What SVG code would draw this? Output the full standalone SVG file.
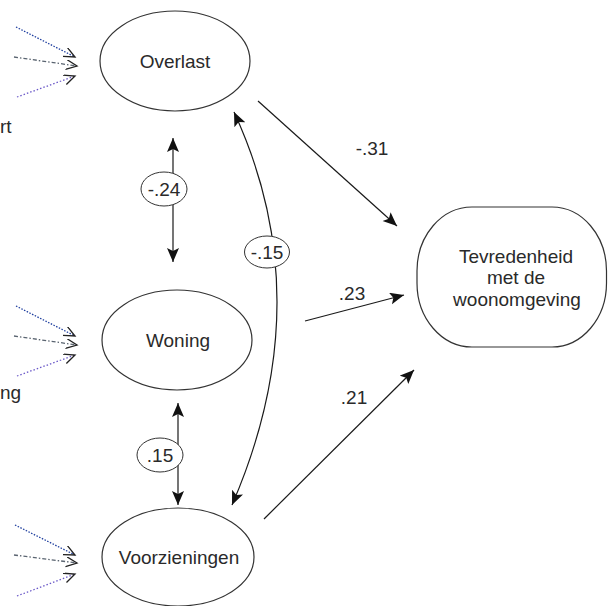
<svg xmlns="http://www.w3.org/2000/svg" width="608" height="606" viewBox="0 0 608 606">
<style>
  .node { fill: #ffffff; stroke: #333333; stroke-width: 1.2; }
  .lbl { font-family: "Liberation Sans", Arial, sans-serif; font-size: 19px; fill: #2a2a2a; text-anchor: middle; }
  .side { font-family: "Liberation Sans", Arial, sans-serif; font-size: 19px; fill: #2a2a2a; text-anchor: start; }
  .conn { stroke: #1a1a1a; stroke-width: 1.2; fill: none; }
  .ind1 { stroke: #1f3f9f; stroke-width: 1.3; stroke-dasharray: 1.5 1.5; fill: none; }
  .ind2 { stroke: #5a6470; stroke-width: 1.3; stroke-dasharray: 4 2 1.5 2; fill: none; }
  .ind3 { stroke: #6a58c8; stroke-width: 1.3; stroke-dasharray: 1.5 2; fill: none; }
  .corr { fill: #ffffff; stroke: #333333; stroke-width: 1; }
</style>
<defs>
  <marker id="solid" markerUnits="userSpaceOnUse" markerWidth="16" markerHeight="14" refX="14" refY="6" orient="auto-start-reverse" viewBox="0 0 16 14">
    <path d="M0,0 L14,6 L0,12 L3,6 z" fill="#111111"/>
  </marker>
  <marker id="open" markerUnits="userSpaceOnUse" markerWidth="14" markerHeight="12" refX="11" refY="5" orient="auto" viewBox="0 0 14 12">
    <path d="M0,0 L11,5 L0,10" fill="none" stroke="#222222" stroke-width="1.3"/>
  </marker>
</defs>

<g id="connectors">
  <!-- indicator arrows -->
  <line class="ind1" x1="16" y1="27" x2="75" y2="57" marker-end="url(#open)"/>
  <line class="ind2" x1="14" y1="57" x2="77" y2="66" marker-end="url(#open)"/>
  <line class="ind3" x1="17" y1="97" x2="75" y2="76" marker-end="url(#open)"/>
  <line class="ind1" x1="16" y1="306" x2="75" y2="336" marker-end="url(#open)"/>
  <line class="ind2" x1="14" y1="336" x2="77" y2="345" marker-end="url(#open)"/>
  <line class="ind3" x1="17" y1="376" x2="75" y2="355" marker-end="url(#open)"/>
  <line class="ind1" x1="15" y1="525" x2="75" y2="555" marker-end="url(#open)"/>
  <line class="ind2" x1="14" y1="555" x2="77" y2="563" marker-end="url(#open)"/>
  <line class="ind3" x1="17" y1="596" x2="75" y2="574" marker-end="url(#open)"/>

  <!-- paths to Tevredenheid -->
  <line class="conn" x1="258" y1="101" x2="397" y2="226" marker-end="url(#solid)"/>
  <line class="conn" x1="305" y1="321" x2="404" y2="295" marker-end="url(#solid)"/>
  <line class="conn" x1="264" y1="519" x2="414" y2="370" marker-end="url(#solid)"/>

  <!-- correlations -->
  <line class="conn" x1="173" y1="138" x2="173" y2="262" marker-start="url(#solid)" marker-end="url(#solid)"/>
  <line class="conn" x1="178" y1="403" x2="178" y2="505" marker-start="url(#solid)" marker-end="url(#solid)"/>
  <path class="conn" d="M234,112 Q321,300 232,505" marker-start="url(#solid)" marker-end="url(#solid)"/>

  <!-- correlation labels -->
  <ellipse class="corr" cx="164" cy="189" rx="23" ry="17"/>
  <text class="lbl" x="164" y="196">-.24</text>
  <ellipse class="corr" cx="267" cy="252" rx="22.5" ry="16"/>
  <text class="lbl" x="267" y="259">-.15</text>
  <ellipse class="corr" cx="160" cy="455" rx="23" ry="17"/>
  <text class="lbl" x="160" y="462">.15</text>

  <!-- path labels -->
  <text class="lbl" x="372" y="155">-.31</text>
  <text class="lbl" x="352" y="300">.23</text>
  <text class="lbl" x="354" y="404">.21</text>
</g>

<text class="side" x="0" y="133">rt</text>
<text class="side" x="0" y="399">ng</text>

<g id="overlast">
  <ellipse class="node" cx="175" cy="61" rx="75" ry="50"/>
  <text class="lbl" x="175" y="68">Overlast</text>
</g>
<g id="woning">
  <ellipse class="node" cx="177" cy="340" rx="75" ry="50"/>
  <text class="lbl" x="178" y="347">Woning</text>
</g>
<g id="voorzieningen">
  <ellipse class="node" cx="178" cy="557" rx="76" ry="49"/>
  <text class="lbl" x="179" y="564">Voorzieningen</text>
</g>
<g id="tevredenheid">
  <path class="node" d="M472,207 H552 A54.5 64 0 0 1 606.5 271 V283 A54.5 64 0 0 1 552 347 H472 A55 64 0 0 1 417 283 V271 A55 64 0 0 1 472 207 Z"/>
  <text class="lbl" x="516" y="263">Tevredenheid</text>
  <text class="lbl" x="516" y="284">met de</text>
  <text class="lbl" x="517" y="306">woonomgeving</text>
</g>
</svg>
